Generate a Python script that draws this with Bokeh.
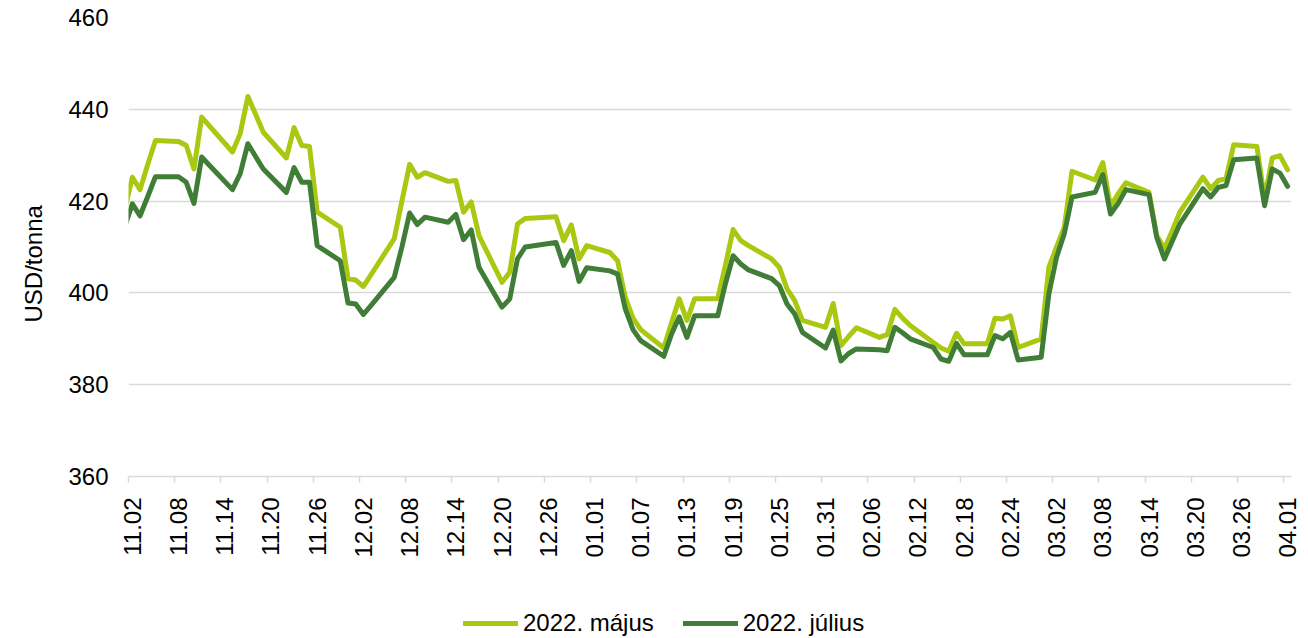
import math
import pandas as pd
from bokeh.plotting import figure
from bokeh.layouts import column
from bokeh.models import (Range1d, FixedTicker, Legend, LegendItem, Title,
                          ColumnDataSource)
from bokeh.embed import file_html
from bokeh.resources import INLINE

# ---- data ----
dates = [
    "2021-11-01", "2021-11-02", "2021-11-03", "2021-11-04", "2021-11-05",
    "2021-11-08", "2021-11-09", "2021-11-10", "2021-11-11", "2021-11-12",
    "2021-11-15", "2021-11-16", "2021-11-17", "2021-11-18", "2021-11-19",
    "2021-11-22", "2021-11-23", "2021-11-24", "2021-11-25", "2021-11-26",
    "2021-11-29", "2021-11-30", "2021-12-01", "2021-12-02", "2021-12-03",
    "2021-12-06", "2021-12-07", "2021-12-08", "2021-12-09", "2021-12-10",
    "2021-12-13", "2021-12-14", "2021-12-15", "2021-12-16", "2021-12-17",
    "2021-12-20", "2021-12-21", "2021-12-22", "2021-12-23",
    "2021-12-27", "2021-12-28", "2021-12-29", "2021-12-30", "2021-12-31",
    "2022-01-03", "2022-01-04", "2022-01-05", "2022-01-06", "2022-01-07",
    "2022-01-10", "2022-01-11", "2022-01-12", "2022-01-13", "2022-01-14",
    "2022-01-17", "2022-01-18", "2022-01-19", "2022-01-20", "2022-01-21",
    "2022-01-24", "2022-01-25", "2022-01-26", "2022-01-27", "2022-01-28",
    "2022-01-31", "2022-02-01", "2022-02-02", "2022-02-03", "2022-02-04",
    "2022-02-07", "2022-02-08", "2022-02-09", "2022-02-10", "2022-02-11",
    "2022-02-14", "2022-02-15", "2022-02-16", "2022-02-17", "2022-02-18",
    "2022-02-21", "2022-02-22", "2022-02-23", "2022-02-24", "2022-02-25",
    "2022-02-28", "2022-03-01", "2022-03-02", "2022-03-03", "2022-03-04",
    "2022-03-07", "2022-03-08", "2022-03-09", "2022-03-10", "2022-03-11",
    "2022-03-14", "2022-03-15", "2022-03-16", "2022-03-17", "2022-03-18",
    "2022-03-21", "2022-03-22", "2022-03-23", "2022-03-24", "2022-03-25",
    "2022-03-28", "2022-03-29", "2022-03-30", "2022-03-31", "2022-04-01",
]

may_2022 = [
    418.0, 425.2, 422.5, 428.0, 433.2,
    433.0, 432.1, 427.0, 438.3, 436.4,
    430.7, 434.7, 442.8, 438.9, 435.0,
    429.4, 436.0, 432.1, 431.9, 417.6,
    414.3, 403.1, 402.8, 401.4, 404.0,
    411.8, 420.0, 428.0, 425.2, 426.2,
    424.3, 424.5, 417.6, 419.8, 412.5,
    402.3, 404.5, 415.0, 416.2,
    416.6, 411.4, 414.8, 407.4, 410.3,
    408.8, 407.0, 399.0, 394.5, 392.0,
    388.0, 393.5, 398.7, 394.0, 398.7,
    398.7, 406.0, 413.8, 411.4, 410.3,
    407.4, 405.6, 400.9, 398.3, 394.0,
    392.5, 397.7, 388.5, 390.5, 392.4,
    390.3, 390.9, 396.4, 394.5, 392.9,
    389.2, 388.0, 387.3, 391.2, 388.9,
    388.9, 394.5, 394.3, 395.0, 388.1,
    390.0, 405.6, 410.0, 414.3, 426.5,
    424.6, 428.4, 418.8, 421.6, 424.0,
    421.9, 412.5, 409.6, 413.5, 417.6,
    425.2, 422.7, 424.5, 424.9, 432.3,
    431.9, 420.5, 429.4, 429.9, 426.8,
]

jul_2022 = [
    414.4, 419.4, 416.8, 421.0, 425.3,
    425.3, 424.1, 419.5, 429.6, 427.8,
    422.5, 426.0, 432.5, 429.7, 427.0,
    421.9, 427.3, 424.1, 424.1, 410.3,
    407.0, 397.8, 397.6, 395.3, 397.3,
    403.4, 410.0, 417.4, 414.9, 416.5,
    415.4, 417.1, 411.6, 413.7, 405.6,
    396.9, 398.7, 407.4, 410.0,
    411.0, 406.0, 409.2, 402.5, 405.5,
    404.8, 404.1, 396.5, 392.0, 389.6,
    386.2, 391.0, 394.8, 390.3, 395.0,
    395.0, 402.0, 408.1, 406.3, 405.0,
    403.1, 401.6, 397.6, 395.4, 391.4,
    388.0, 391.9, 385.2, 386.8, 387.8,
    387.6, 387.4, 392.5, 391.3, 390.0,
    388.1, 385.6, 385.1, 389.0, 386.5,
    386.5, 390.7, 390.0, 391.4, 385.4,
    386.0, 399.8, 407.8, 412.9, 420.9,
    421.9, 425.8, 417.2, 419.5, 422.5,
    421.4, 412.1, 407.4, 411.2, 415.0,
    422.7, 420.9, 423.0, 423.4, 429.0,
    429.4, 419.0, 427.0, 426.1, 423.2,
]

tick_labels = ["11.02", "11.08", "11.14", "11.20", "11.26", "12.02", "12.08",
               "12.14", "12.20", "12.26", "01.01", "01.07", "01.13", "01.19",
               "01.25", "01.31", "02.06", "02.12", "02.18", "02.24", "03.02",
               "03.08", "03.14", "03.20", "03.26", "04.01"]

series_names = ["2022. május", "2022. július"]
y_ticks = [360, 380, 400, 420, 440, 460]
y_title = "USD/tonna"

# ---- build ----
FONT = "Liberation Sans"
LIGHT = "#A9C811"
DARK = "#407D37"
GRID = "#D9D9D9"
COLORS = [LIGHT, DARK]
FIELDS = ["may", "jul"]

origin = pd.Timestamp("2021-11-02")
xs = [(pd.Timestamp(d) - origin).days + 0.5 for d in dates]
n_days = (pd.Timestamp("2022-04-01") - origin).days + 1

tick_pos = [float(i * 6) for i in range(len(tick_labels))]
label_pos = [t + 0.5 for t in tick_pos]

src = ColumnDataSource(dict(x=xs, may=may_2022, jul=jul_2022))

p = figure(width=1308, height=600, output_backend="svg", toolbar_location=None,
           x_range=Range1d(0, n_days), y_range=Range1d(360, 460),
           min_border_left=128, min_border_right=17, min_border_top=17,
           min_border_bottom=124)
p.background_fill_color = "white"
p.border_fill_color = "white"
p.outline_line_color = None

for f, c in zip(FIELDS, COLORS):
    p.line("x", f, source=src, line_color=c, line_width=5,
           line_join="round", line_cap="round")

# x axis
p.xaxis.ticker = FixedTicker(ticks=label_pos, minor_ticks=tick_pos)
p.xaxis.major_label_overrides = {lp: lab for lp, lab in zip(label_pos, tick_labels)}
p.xaxis.major_label_orientation = math.pi / 2
p.xaxis.major_tick_line_color = None
p.xaxis.major_tick_out = 0
p.xaxis.major_tick_in = 0
p.xaxis.minor_tick_line_color = GRID
p.xaxis.minor_tick_line_width = 1.5
p.xaxis.minor_tick_out = 6
p.xaxis.minor_tick_in = 0
p.xaxis.axis_line_color = GRID
p.xaxis.axis_line_width = 1.5
p.xaxis.major_label_standoff = 15
p.xaxis.major_label_text_font = FONT
p.xaxis.major_label_text_font_size = "24px"
p.xaxis.major_label_text_color = "#000000"
p.xgrid.grid_line_color = None

# y axis
p.yaxis.ticker = FixedTicker(ticks=y_ticks)
p.yaxis.axis_line_color = None
p.yaxis.major_tick_line_color = None
p.yaxis.minor_tick_line_color = None
p.yaxis.major_tick_out = 0
p.yaxis.major_tick_in = 0
p.yaxis.major_label_standoff = 20
p.yaxis.major_label_text_font = FONT
p.yaxis.major_label_text_font_size = "24px"
p.yaxis.major_label_text_color = "#000000"
p.ygrid.grid_line_color = GRID
p.ygrid.grid_line_width = 1.5

# y axis title
p.add_layout(Title(text=y_title, align="left", vertical_align="top",
                   offset=154, standoff=33,
                   text_font=FONT, text_font_size="24px",
                   text_font_style="normal", text_color="#000000"), "left")

# legend strip below the chart (frame aligned with the chart's frame)
lg = figure(width=1308, height=38, output_backend="svg", toolbar_location=None,
            x_range=Range1d(0, 1), y_range=Range1d(0, 1),
            x_axis_type=None, y_axis_type=None,
            min_border_left=128, min_border_right=17, min_border_top=0,
            min_border_bottom=0)
lg.outline_line_color = None
lg.grid.grid_line_color = None
lg.background_fill_color = "white"
lg.border_fill_color = "white"
items = []
for name, f, c in zip(series_names, FIELDS, COLORS):
    r = lg.line("x", f, source=src, line_color=c, line_width=5,
                line_cap="round")
    items.append(LegendItem(label=name, renderers=[r]))

legend = Legend(items=items, orientation="horizontal", location=(335, 1))
legend.glyph_width = 55
legend.glyph_height = 24
legend.label_height = 24
legend.label_standoff = 5
legend.spacing = 29
legend.padding = 0
legend.margin = 0
legend.border_line_color = None
legend.background_fill_alpha = 0
legend.label_text_font = FONT
legend.label_text_font_size = "24px"
legend.label_text_color = "#000000"
lg.add_layout(legend, "center")

layout = column(p, lg, spacing=0)
open("out.html", "w").write(file_html(layout, INLINE))
